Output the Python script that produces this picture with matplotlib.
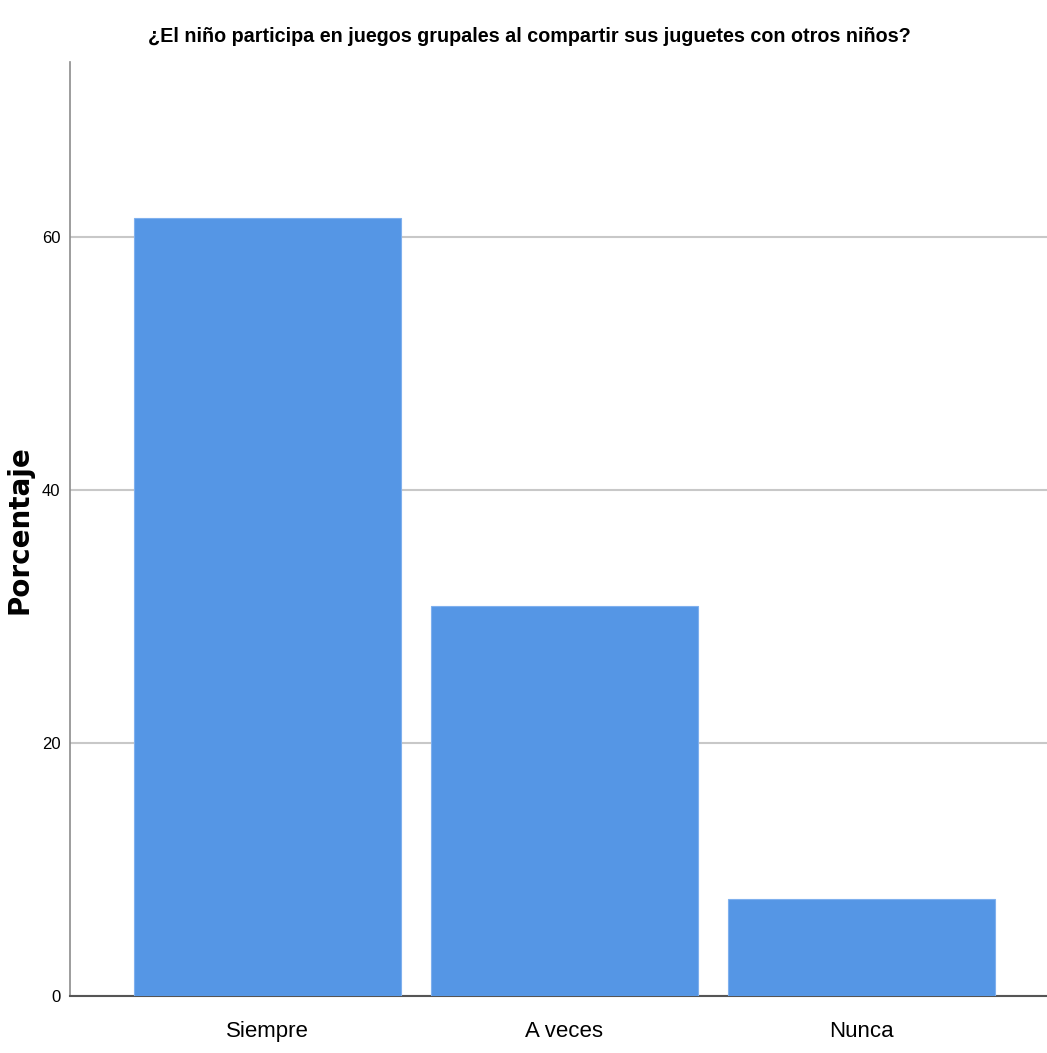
import matplotlib
matplotlib.use("Agg")
import matplotlib.pyplot as plt

categories = ["Siempre", "A veces", "Nunca"]
percentages = [61.5, 30.8, 7.7]
yticks = [0, 20, 40, 60]

font = "Liberation Sans"

fig = plt.figure(figsize=(10.47, 10.53), dpi=100)
ax = fig.add_axes([70/1047, 57/1053, (1047-70)/1047, (996-62)/1053])

x = list(range(len(categories)))
ax.bar(x, percentages, width=0.9, color="#5596E5", edgecolor="#7FB0EE", linewidth=0.8, zorder=3)

ax.set_xlim(-0.665, 2.625)
ax.set_ylim(0, 73.8)
ax.set_yticks(yticks)
ax.set_yticklabels([str(t) for t in yticks], fontfamily=font, fontsize=12)
ax.set_xticks(x)
ax.set_xticklabels(categories, fontfamily=font, fontsize=16)
ax.tick_params(axis="both", length=0)
ax.tick_params(axis="y", pad=7)
ax.tick_params(axis="x", pad=18)

ax.yaxis.grid(True, color="#C8C8C8", linewidth=1.5, zorder=0)
ax.set_axisbelow(True)

for s in ["top", "right"]:
    ax.spines[s].set_visible(False)
ax.spines["left"].set_color("#8C8C8C")
ax.spines["left"].set_linewidth(1.2)
ax.spines["bottom"].set_color("#555555")
ax.spines["bottom"].set_linewidth(1.5)

ax.set_ylabel("Porcentaje", fontfamily="DejaVu Sans", fontweight="bold", fontsize=20)
ax.yaxis.set_label_coords(-50/977, (996-530)/934)
ax.yaxis.label.set_va("center")

fig.text(529/1047, 1 - 36/1053, "¿El niño participa en juegos grupales al compartir sus juguetes con otros niños?",
         ha="center", va="center", fontfamily=font, fontweight="bold", fontsize=14.2)

fig.savefig("out.png", dpi=100)
